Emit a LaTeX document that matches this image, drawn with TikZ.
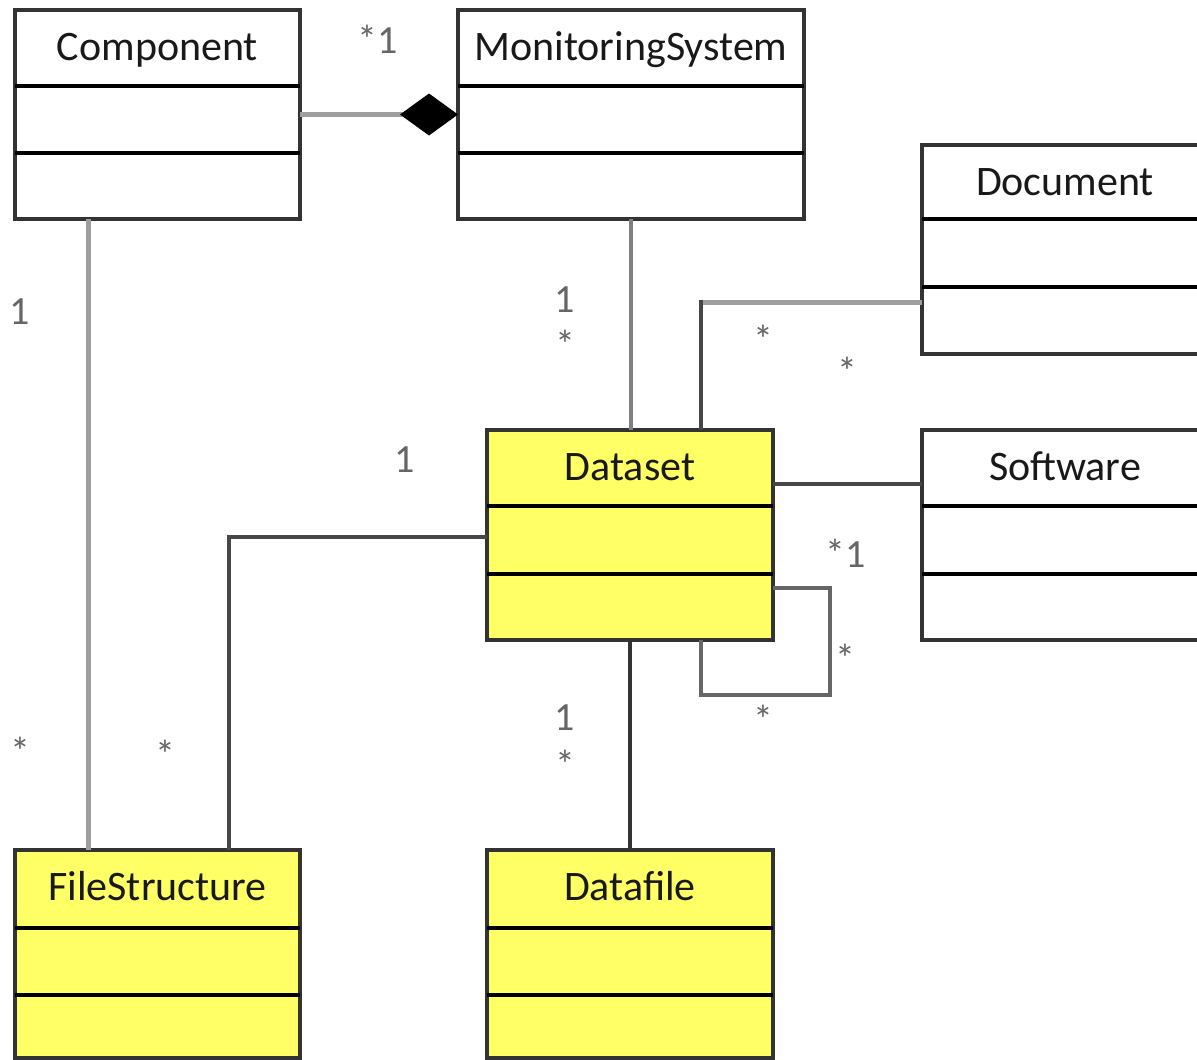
\documentclass[tikz,border=0pt]{standalone}
\usepackage{fontspec}
\setmainfont{Carlito}
\usetikzlibrary{arrows.meta}
\definecolor{umlyellow}{RGB}{255,255,102}
\begin{document}
\begin{tikzpicture}[x=1pt,y=1pt,
  cls/.style={draw=black!80, line width=3.5pt, inner sep=0pt, outer sep=0pt, anchor=north west},
  divline/.style={draw=black, line width=4pt},
  title/.style={font=\fontsize{42}{46}\selectfont, text=black!90, inner sep=0pt, anchor=base},
  mult/.style={font=\fontsize{40}{44}\selectfont, text=black!60, inner sep=0pt, anchor=base},
  lightconn/.style={draw=black!38, line width=5pt},
  darkconn/.style={draw=black!72, line width=4pt},
]
\useasboundingbox (0,0) rectangle (1197,-1060);
\clip (0,0) rectangle (1197,-1060);

% ---------- classes ----------
% Component
\node[cls, fill=white, minimum width=285pt, minimum height=209pt] (comp) at (15,-10) {};
\draw[divline] ([yshift=-76pt]comp.north west) -- ([yshift=-76pt]comp.north east);
\draw[divline] ([yshift=-143pt]comp.north west) -- ([yshift=-143pt]comp.north east);
\node[title] (compT) at ([yshift=-50pt]comp.north) {Component};

% MonitoringSystem
\node[cls, fill=white, minimum width=346pt, minimum height=209pt] (ms) at (458,-10) {};
\draw[divline] ([yshift=-76pt]ms.north west) -- ([yshift=-76pt]ms.north east);
\draw[divline] ([yshift=-143pt]ms.north west) -- ([yshift=-143pt]ms.north east);
\node[title] (msT) at ([yshift=-50pt]ms.north) {MonitoringSystem};

% Document
\node[cls, fill=white, minimum width=286pt, minimum height=209pt] (doc) at (922,-145) {};
\draw[divline] ([yshift=-74pt]doc.north west) -- ([yshift=-74pt]doc.north east);
\draw[divline] ([yshift=-142pt]doc.north west) -- ([yshift=-142pt]doc.north east);
\node[title] (docT) at ([yshift=-50pt]doc.north) {Document};

% Software
\node[cls, fill=white, minimum width=286pt, minimum height=210pt] (sw) at (922,-430) {};
\draw[divline] ([yshift=-76pt]sw.north west) -- ([yshift=-76pt]sw.north east);
\draw[divline] ([yshift=-144pt]sw.north west) -- ([yshift=-144pt]sw.north east);
\node[title] (swT) at ([yshift=-50pt]sw.north) {Software};

% Dataset
\node[cls, fill=umlyellow, minimum width=286pt, minimum height=210pt] (ds) at (487,-430) {};
\draw[divline] ([yshift=-76pt]ds.north west) -- ([yshift=-76pt]ds.north east);
\draw[divline] ([yshift=-144pt]ds.north west) -- ([yshift=-144pt]ds.north east);
\node[title] (dsT) at ([yshift=-50pt]ds.north) {Dataset};

% FileStructure
\node[cls, fill=umlyellow, minimum width=285pt, minimum height=208pt] (fs) at (15,-850) {};
\draw[divline] ([yshift=-78pt]fs.north west) -- ([yshift=-78pt]fs.north east);
\draw[divline] ([yshift=-145pt]fs.north west) -- ([yshift=-145pt]fs.north east);
\node[title] (fsT) at ([yshift=-50pt]fs.north) {FileStructure};

% Datafile
\node[cls, fill=umlyellow, minimum width=286pt, minimum height=208pt] (df) at (487,-850) {};
\draw[divline] ([yshift=-78pt]df.north west) -- ([yshift=-78pt]df.north east);
\draw[divline] ([yshift=-145pt]df.north west) -- ([yshift=-145pt]df.north east);
\node[title] (dfT) at ([yshift=-50pt]df.north) {Datafile};

% ---------- helper coordinates ----------
\coordinate (cx) at (88,0);
\coordinate (bend1) at (701,-302);
\coordinate (y484) at (0,-484);
\coordinate (bend2) at (229,-537);
\coordinate (loopA) at (830,-588);
\coordinate (loopB) at (701,-695);

% ---------- connectors ----------
\draw[lightconn, -{Diamond[length=58pt,width=42pt,color=black,fill=black]}] (comp.east) -- (ms.west);
\draw[lightconn] (comp.south -| cx) -- (fs.north -| cx);
\draw[draw=black!50, line width=4.5pt] (ms.south) -- (ms.south |- ds.north);
\draw[lightconn] (doc.west |- bend1) -- (bend1);
\draw[darkconn] ([yshift=2.5pt]bend1) -- (bend1 |- ds.north);
\draw[darkconn] (ds.east |- y484) -- (sw.west |- y484);
\draw[darkconn] (ds.west |- bend2) -- (bend2) -- (bend2 |- fs.north);
\draw[darkconn, draw=black!80] (ds.south) -- (df.north);
\draw[darkconn, draw=black!60] (ds.east |- loopA) -- (loopA) |- (loopB) -- (loopB |- ds.south);

% ---------- multiplicities ----------
\node[mult] (m1) at (378,-53) {*1};
\node[mult] (m2) at (20,-324) {1};
\node[mult] (m3) at (20,-765) {*};
\node[mult] (m4) at (565,-312) {1};
\node[mult] (m5) at (565,-358) {*};
\node[mult] (m6) at (763,-353) {*};
\node[mult] (m7) at (847,-385) {*};
\node[mult] (m8) at (405,-472) {1};
\node[mult] (m9) at (846,-567) {*1};
\node[mult] (m10) at (845,-672) {*};
\node[mult] (m11) at (763,-733) {*};
\node[mult] (m12) at (565,-730) {1};
\node[mult] (m13) at (565,-778) {*};
\node[mult] (m14) at (165,-768) {*};
\end{tikzpicture}
\end{document}
